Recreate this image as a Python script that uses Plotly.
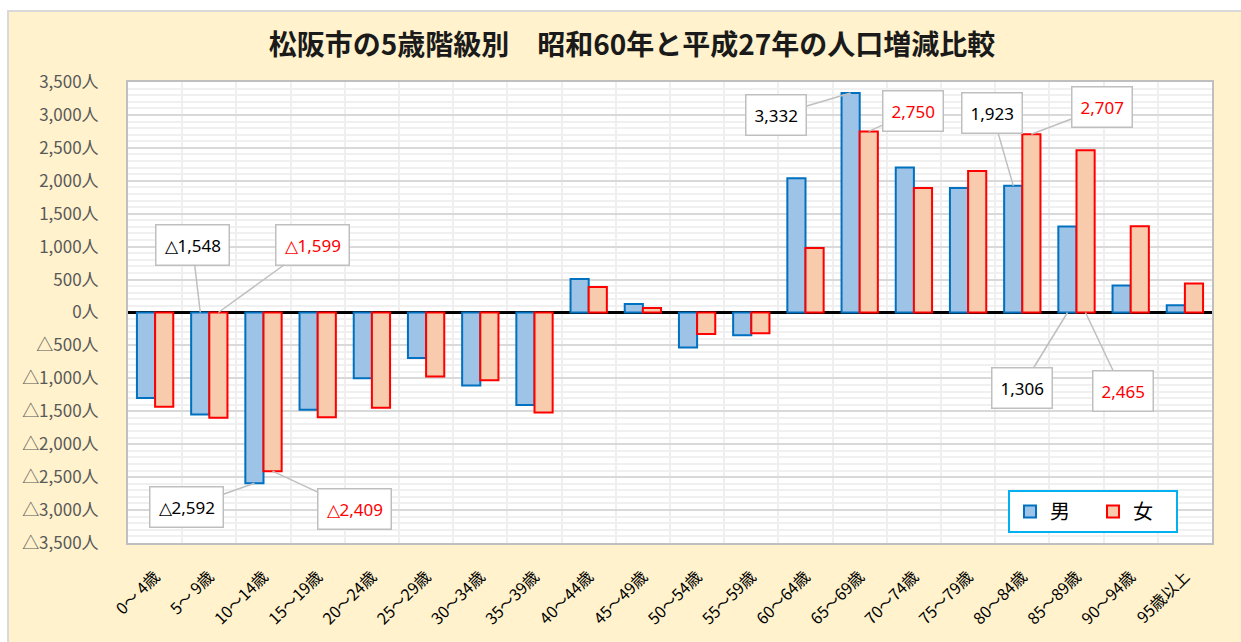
import plotly.graph_objects as go

# ---------------- data ----------------
categories = ["0～ 4歳", "5～ 9歳", "10～14歳", "15～19歳", "20～24歳", "25～29歳",
              "30～34歳", "35～39歳", "40～44歳", "45～49歳", "50～54歳", "55～59歳",
              "60～64歳", "65～69歳", "70～74歳", "75～79歳", "80～84歳", "85～89歳",
              "90～94歳", "95歳以上"]
male = [-1300, -1548, -2592, -1475, -1000, -690, -1110, -1405, 510, 130,
        -530, -345, 2040, 3332, 2200, 1890, 1923, 1306, 410, 110]
female = [-1430, -1599, -2409, -1590, -1445, -970, -1030, -1520, 388, 70,
          -325, -315, 980, 2750, 1890, 2150, 2707, 2465, 1310, 440]
y_ticks = list(range(-3500, 3501, 500))
title_text = "松阪市の5歳階級別　昭和60年と平成27年の人口増減比較"
series_names = ["男", "女"]

def fmt(v):
    return ("△" if v < 0 else "") + f"{abs(v):,}"

y_ticktext = [fmt(v) + "人" for v in y_ticks]

# callouts: (category index, series, point at base?)
callouts = [(1, "男", True), (1, "女", True), (2, "男", False), (2, "女", False),
            (13, "男", False), (13, "女", False), (16, "男", False), (16, "女", False),
            (17, "男", True), (17, "女", True)]
# box offsets in pixels (style)
callout_offsets = [(-8, -68), (94, -68), (-68, 24), (82, 38),
                   (-75, 22), (44, -20), (-21, -73), (71, -27),
                   (-46, 75), (37, 78)]

# ---------------- styling ----------------
FONT = "Noto Sans CJK JP"
M_FILL, M_LINE = "#9DC3E6", "#0070C0"
F_FILL, F_LINE = "#F8CBAD", "#FF0000"
CREAM = "#FFF2CC"

W, H = 1241, 642
L, R, T, B = 128, 29, 82, 99
pw, ph = W - L - R, H - T - B

fig = go.Figure()
fig.add_trace(go.Bar(name=series_names[0], x=categories, y=male,
                     marker=dict(color=M_FILL, line=dict(color=M_LINE, width=2))))
fig.add_trace(go.Bar(name=series_names[1], x=categories, y=female,
                     marker=dict(color=F_FILL, line=dict(color=F_LINE, width=2))))

def px2paper_x(px):
    return (px - L) / pw

def px2paper_y(py):
    return (H - B - py) / ph

shapes = [
    dict(type="rect", xref="paper", yref="paper", layer="below",
         x0=px2paper_x(8), x1=px2paper_x(W + 5), y0=px2paper_y(H + 5), y1=px2paper_y(11),
         fillcolor=CREAM, line=dict(color="#D9D9D9", width=2)),
    dict(type="rect", xref="paper", yref="paper", layer="below",
         x0=0, x1=1, y0=0, y1=1, fillcolor="white", line=dict(width=0)),
]

annotations = []
for (ci, s, at_base), (ax, ay) in zip(callouts, callout_offsets):
    vals = male if s == "男" else female
    v = vals[ci]
    color = "#000000" if s == "男" else "#FF0000"
    annotations.append(dict(
        x=categories[ci], y=0 if at_base else v, xref="x", yref="y",
        xshift=-9 if s == "男" else 9,
        text=fmt(v), showarrow=True, arrowhead=0, arrowwidth=1.5,
        arrowcolor="#BFBFBF", ax=ax, ay=ay, standoff=0,
        bgcolor="white", bordercolor="#BFBFBF", borderwidth=1.5, borderpad=8,
        font=dict(family="Noto Sans", size=17, color=color),
    ))

fig.update_layout(
    width=W, height=H,
    margin=dict(l=L, r=R, t=T, b=B, pad=0),
    paper_bgcolor="white", plot_bgcolor="white",
    title=dict(text=title_text, x=(632) / W, xanchor="center", y=1 - 45 / H, yanchor="middle",
               font=dict(family=FONT, size=28, color="#1a1a1a", weight="bold")),
    barmode="group", bargap=0.33, bargroupgap=0,
    font=dict(family=FONT),
    shapes=shapes, annotations=annotations,
    legend=dict(orientation="h", x=px2paper_x(1008), y=px2paper_y(490),
                xanchor="left", yanchor="top",
                bgcolor="white", bordercolor="#00B0F0", borderwidth=2,
                font=dict(family=FONT, size=20, color="black"),
                entrywidth=38, itemsizing="constant", itemwidth=30),
    xaxis=dict(type="category", tickangle=-45, tickson="boundaries",
               showgrid=True, gridcolor="#EFEFEF", gridwidth=2,
               showline=True, linecolor="#BFBFBF", linewidth=2, mirror=True,
               ticks="", ticklabelstandoff=16,
               tickfont=dict(family=FONT, size=16, color="black")),
    yaxis=dict(range=[-3500, 3500], tickvals=y_ticks, ticktext=y_ticktext,
               showgrid=True, gridcolor="#D9D9D9", gridwidth=1.5,
               minor=dict(dtick=100, showgrid=True, gridcolor="#F0F0F0", gridwidth=1.5),
               zeroline=True, zerolinecolor="black", zerolinewidth=3,
               showline=True, linecolor="#BFBFBF", linewidth=2, mirror=True,
               ticks="", ticklabelstandoff=24,
               tickfont=dict(family=FONT, size=17, color="#595959")),
)

fig.write_html("out.html", config={"displayModeBar": False},
               post_script="document.body.style.margin='0';document.body.style.overflow='hidden';")
